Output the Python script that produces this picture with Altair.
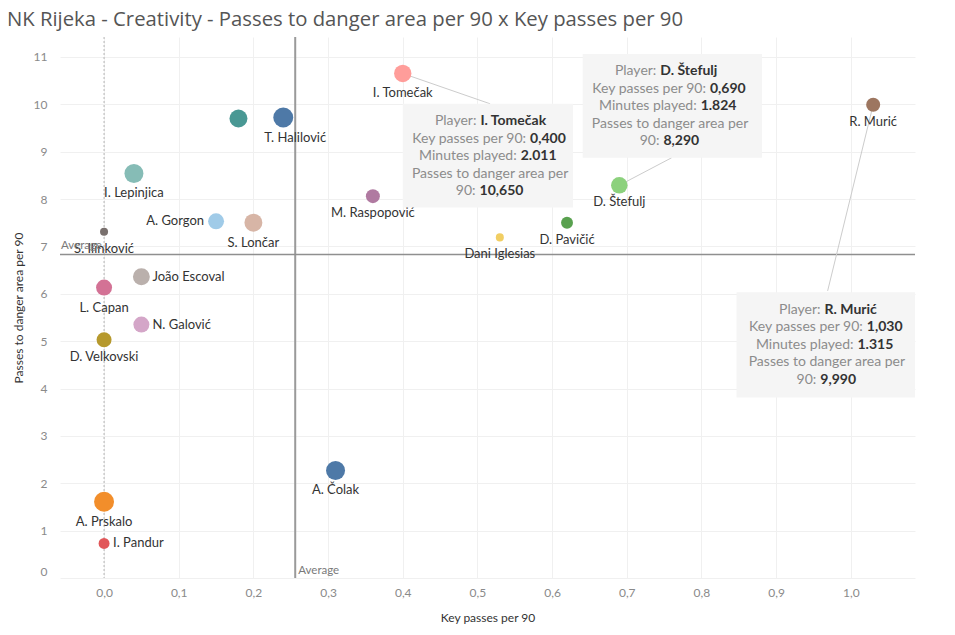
import altair as alt
import pandas as pd

# ---------------- data ----------------
players = ["I. Tomečak", "D. Štefulj", "R. Murić", "T. Halilović", "F. Andrijašević",
           "I. Lepinjica", "A. Gorgon", "S. Lončar", "S. Ilinković", "João Escoval",
           "L. Capan", "N. Galović", "D. Velkovski", "A. Prskalo", "I. Pandur",
           "A. Čolak", "M. Raspopović", "D. Pavičić", "Dani Iglesias"]
key_passes = [0.400, 0.690, 1.030, 0.240, 0.180, 0.040, 0.150, 0.200, 0.000, 0.050,
              0.000, 0.050, 0.000, 0.000, 0.000, 0.310, 0.360, 0.620, 0.530]
danger_passes = [10.650, 8.290, 9.990, 9.72, 9.70, 8.54, 7.53, 7.50, 7.31, 6.36,
                 6.13, 5.35, 5.03, 1.61, 0.73, 2.27, 8.06, 7.50, 7.19]
minutes = [2011, 1824, 1315, 2650, 2150, 2400, 1700, 2150, 430, 1900,
           1700, 1700, 1500, 2650, 800, 2400, 1300, 950, 430]

palette = ["#FF9D9A", "#8CD17D", "#9D7660", "#4E79A7", "#499894",
           "#86BCB6", "#A0CBE8", "#D7B5A6", "#79706E", "#BAB0AC",
           "#D37295", "#D4A6C8", "#B6992D", "#F28E2B", "#E15759",
           "#4E79A7", "#B07AA1", "#59A14F", "#F1CE63"]

avg_key = 0.256
avg_danger = 6.83

x_ticks = [0.0, 0.1, 0.2, 0.3, 0.4, 0.5, 0.6, 0.7, 0.8, 0.9, 1.0]
y_ticks = [0, 1, 2, 3, 4, 5, 6, 7, 8, 9, 10, 11]

# tooltip annotations (players highlighted in the view)
tip_players = ["I. Tomečak", "D. Štefulj", "R. Murić"]
tip_minutes_txt = ["2.011", "1.824", "1.315"]
tip_key_txt = ["0,400", "0,690", "1,030"]
tip_danger_txt = ["10,650", "8,290", "9,990"]

# ---------------- style / layout ----------------
X_DOMAIN = [-0.059, 1.086]
Y_DOMAIN = [0, 11.42]
FONT = "Lato"

label_place = {
    "I. Tomečak": "below", "D. Štefulj": "below_s", "R. Murić": "below_s",
    "T. Halilović": "below_r", "F. Andrijašević": "none", "I. Lepinjica": "below",
    "A. Gorgon": "left", "S. Lončar": "below", "S. Ilinković": "below_s",
    "João Escoval": "right", "L. Capan": "below", "N. Galović": "right",
    "D. Velkovski": "below_s", "A. Prskalo": "below", "I. Pandur": "right_s",
    "A. Čolak": "below", "M. Raspopović": "below_s", "D. Pavičić": "below_s",
    "Dani Iglesias": "below_s",
}
place_style = {
    "below": dict(align="center", dx=0, dy=20),
    "below_s": dict(align="center", dx=0, dy=17),
    "below_r": dict(align="center", dx=12, dy=20),
    "right": dict(align="left", dx=11, dy=0),
    "right_s": dict(align="left", dx=9, dy=0),
    "left": dict(align="right", dx=-12, dy=0),
}

# tooltip box geometry (data units) : box extents, text centre, connector end
tip_box_x = [(0.400, 0.628), (0.641, 0.881), (0.847, 1.086)]
tip_box_y = [(7.82, 10.01), (8.87, 11.06), (3.81, 6.03)]
tip_center = [(0.517, 8.90), (0.758, 9.96), (0.968, 4.92)]
tip_link_end = [(0.517, 10.01), (0.760, 8.87), (0.969, 6.06)]

df = pd.DataFrame({
    "player": players,
    "key": key_passes,
    "danger": danger_passes,
    "minutes": minutes,
})
df["place"] = df["player"].map(label_place)

x_scale = alt.Scale(domain=X_DOMAIN, nice=False, zero=False)
y_scale = alt.Scale(domain=Y_DOMAIN, nice=False, zero=False)

x_axis = alt.Axis(values=x_ticks, title="Key passes per 90",
                  labelExpr="replace(format(datum.value, '.1f'), '.', ',')",
                  grid=True, gridColor="#f0f0f0", domain=False, ticks=False,
                  labelColor="#8a8a8a", labelFontSize=12, labelFont=FONT,
                  labelPadding=9, titleColor="#333333", titleFontSize=12,
                  titleFont=FONT, titleFontWeight="normal", titlePadding=14)
y_axis = alt.Axis(values=y_ticks, title="Passes to danger area per 90",
                  grid=True, gridColor="#f0f0f0", domain=False, ticks=False,
                  labelColor="#8a8a8a", labelFontSize=12, labelFont=FONT,
                  labelPadding=13, labelFlush=True,
                  titleColor="#333333", titleFontSize=12, titleFont=FONT,
                  titleFontWeight="normal", titlePadding=8)

base = alt.Chart(df)

# grid carrier
grid = base.mark_point(opacity=0).encode(
    x=alt.X("key:Q", scale=x_scale, axis=x_axis),
    y=alt.Y("danger:Q", scale=y_scale, axis=y_axis),
)

ref_df = pd.DataFrame({"zero": [0.0], "avg_key": [avg_key], "avg_danger": [avg_danger],
                       "xmin": [X_DOMAIN[0]], "ymin": [Y_DOMAIN[0]]})
ref = alt.Chart(ref_df)

zero_line = ref.mark_rule(color="#b5b5b5", strokeDash=[2, 2], strokeWidth=1).encode(
    x=alt.X("zero:Q", scale=x_scale))
avg_v = ref.mark_rule(color="#9a9a9a", strokeWidth=2).encode(
    x=alt.X("avg_key:Q", scale=x_scale))
avg_h = ref.mark_rule(color="#8f8f8f", strokeWidth=1.5).encode(
    y=alt.Y("avg_danger:Q", scale=y_scale))
avg_v_txt = ref.mark_text(text="Average", align="left", baseline="bottom", dx=3, dy=-2,
                          font=FONT, fontSize=11.5, color="#7a7a7a").encode(
    x=alt.X("avg_key:Q", scale=x_scale), y=alt.Y("ymin:Q", scale=y_scale))
avg_h_txt = ref.mark_text(text="Average", align="left", baseline="bottom", dx=1, dy=-3,
                          font=FONT, fontSize=11.5, color="#7a7a7a").encode(
    x=alt.X("xmin:Q", scale=x_scale), y=alt.Y("avg_danger:Q", scale=y_scale))

# tooltip connectors and boxes
tip_rows = []
for i, p in enumerate(tip_players):
    r = df[df["player"] == p].iloc[0]
    tip_rows.append({
        "player": p, "px": r["key"], "py": r["danger"],
        "ex": tip_link_end[i][0], "ey": tip_link_end[i][1],
        "bx": tip_box_x[i][0], "bx2": tip_box_x[i][1],
        "by": tip_box_y[i][0], "by2": tip_box_y[i][1],
        "cx": tip_center[i][0], "cy": tip_center[i][1],
    })
tip_df = pd.DataFrame(tip_rows)
tips = alt.Chart(tip_df)

links = tips.mark_rule(color="#cccccc", strokeWidth=1).encode(
    x=alt.X("px:Q", scale=x_scale), y=alt.Y("py:Q", scale=y_scale),
    x2="ex:Q", y2="ey:Q")
boxes = tips.mark_rect(color="#f5f5f5").encode(
    x=alt.X("bx:Q", scale=x_scale), x2="bx2:Q",
    y=alt.Y("by:Q", scale=y_scale), y2="by2:Q")

# points
points = base.mark_circle(opacity=1).encode(
    x=alt.X("key:Q", scale=x_scale),
    y=alt.Y("danger:Q", scale=y_scale),
    size=alt.Size("minutes:Q", scale=alt.Scale(domain=[0, 3000], range=[0, 450]), legend=None),
    color=alt.Color("player:N", scale=alt.Scale(domain=players, range=palette), legend=None),
)

# labels
label_layers = []
for name, st in place_style.items():
    label_layers.append(
        base.transform_filter(alt.datum.place == name).mark_text(
            font=FONT, fontSize=13, color="#333333", baseline="middle", **st
        ).encode(
            x=alt.X("key:Q", scale=x_scale),
            y=alt.Y("danger:Q", scale=y_scale),
            text="player:N",
        )
    )

# tooltip text: rows of (grey label, bold value)
TIP_FS = 14
GAP = 4.0
LINE_H = 17.5


def w_norm(s):
    return 6.2 * len(s)


def w_bold(s):
    return sum(3.8 if c in ",. " else 8.0 if c.isdigit() else 7.4 for c in s)


text_rows = []
for i, p in enumerate(tip_players):
    rows = [
        ("Player:", p),
        ("Key passes per 90:", tip_key_txt[i]),
        ("Minutes played:", tip_minutes_txt[i]),
        ("Passes to danger area per", ""),
        ("90:", tip_danger_txt[i]),
    ]
    for j, (lab, val) in enumerate(rows):
        wl = w_norm(lab)
        if val:
            wv = w_bold(val)
            w = wl + GAP + wv
            split = -w / 2 + wl
            lab_dx = split
            lab_align = "right"
        else:
            lab_dx = 0.0
            lab_align = "center"
            split = 0.0
        text_rows.append({"cx": tip_center[i][0], "cy": tip_center[i][1],
                          "lab": lab, "val": val, "row": j,
                          "lab_dx": lab_dx, "lab_align": lab_align,
                          "val_dx": split + GAP})
txt_df = pd.DataFrame(text_rows)

tip_text_layers = []
for _, rr in txt_df.iterrows():
    one = pd.DataFrame([rr])
    dy = (int(rr["row"]) - 2) * LINE_H
    tip_text_layers.append(
        alt.Chart(one).mark_text(font=FONT, fontSize=TIP_FS, color="#8c8c8c",
                                 align=rr["lab_align"], baseline="middle",
                                 dx=float(rr["lab_dx"]), dy=dy).encode(
            x=alt.X("cx:Q", scale=x_scale), y=alt.Y("cy:Q", scale=y_scale),
            text="lab:N"))
    if rr["val"]:
        tip_text_layers.append(
            alt.Chart(one).mark_text(font=FONT, fontSize=TIP_FS, color="#333333",
                                     fontWeight="bold", align="left",
                                     baseline="middle",
                                     dx=float(rr["val_dx"]), dy=dy).encode(
                x=alt.X("cx:Q", scale=x_scale), y=alt.Y("cy:Q", scale=y_scale),
                text="val:N"))

chart = alt.layer(
    grid, zero_line, avg_v, avg_h, links, points, *label_layers,
    avg_v_txt, avg_h_txt, boxes, *tip_text_layers
).properties(
    width=855, height=541,
    padding={"left": 52, "top": 29, "right": 20, "bottom": 50},
    autosize=alt.AutoSizeParams(type="none"),
    title=alt.TitleParams(
        "NK Rijeka - Creativity - Passes to danger area per 90 x Key passes per 90",
        anchor="start", frame="group", dx=-53, dy=21, offset=11, baseline="alphabetic",
        font="Open Sans", fontSize=20.3, fontWeight="normal", color="#555555"),
).configure_view(stroke=None)

chart.save("out.html", embed_options={"renderer": "svg", "actions": False})
